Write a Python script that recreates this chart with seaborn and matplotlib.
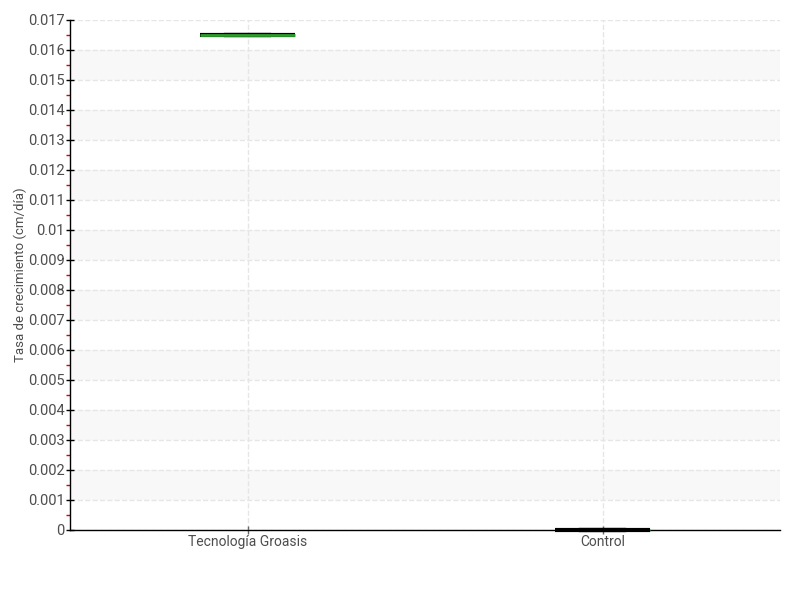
import matplotlib
matplotlib.use("Agg")
import matplotlib.pyplot as plt
from matplotlib.ticker import MultipleLocator
import seaborn as sns
import pandas as pd
import numpy as np

sns.set_theme(style="white")
plt.rcParams['font.family'] = ['Roboto', 'DejaVu Sans']

categories = ["Tecnología Groasis", "Control"]
groasis_vals = [0.01648, 0.01648, 0.01648, 0.01648, 0.01648]
control_vals = [0.0, 0.0, 0.0, 0.0, 0.0]
y_label = "Tasa de crecimiento (cm/día)"
y_max = 0.017
y_step = 0.001

df = pd.DataFrame({
    "grupo": [categories[0]] * len(groasis_vals) + [categories[1]] * len(control_vals),
    "tasa": groasis_vals + control_vals,
})

text_color = "#4d4d4d"
median_color = "#2ca02c"

fig, ax = plt.subplots(figsize=(8, 6), dpi=100)
fig.subplots_adjust(left=0.0875, right=0.975, top=0.967, bottom=0.117)

# alternating bands
for lo in np.arange(y_step, y_max, 2 * y_step):
    ax.axhspan(lo, lo + y_step, color="#f8f8f8", zorder=0, lw=0)
n_bands = len(ax.patches)

sns.boxplot(data=df, x="grupo", y="tasa", order=categories, ax=ax, width=0.27,
            color="black", linewidth=3, fliersize=0,
            boxprops=dict(edgecolor="black", facecolor="#333333", linewidth=3),
            whiskerprops=dict(color="black", linewidth=3),
            capprops=dict(color="black", linewidth=3),
            medianprops=dict(color=median_color, linewidth=2))

for art in ax.patches[n_bands:] + ax.lines:
    art.set_clip_on(False)
    art.set_zorder(5)
# control median sits under its (flat) box
for ln in ax.lines:
    if ln.get_color() == median_color and np.mean(ln.get_xdata()) > 0.5:
        ln.set_zorder(4)

ax.set_xlim(-0.5, 1.5)
ax.set_ylim(0, y_max)
ax.yaxis.set_major_locator(MultipleLocator(y_step))
ax.yaxis.set_minor_locator(MultipleLocator(y_step / 2))
ax.set_yticklabels(["0" if v == 0 else f"{v:.3f}".rstrip("0") for v in ax.get_yticks()])

ax.grid(True, which="major", axis="both", color="#e6e6e6", linestyle="--", linewidth=1)
ax.set_axisbelow(True)
for s in ["top", "right"]:
    ax.spines[s].set_visible(False)
for s in ["left", "bottom"]:
    ax.spines[s].set_color("black")
    ax.spines[s].set_linewidth(1)

ax.tick_params(axis="y", which="major", left=True, direction="inout", length=6, width=1,
               color="black", labelsize=10.5, labelcolor=text_color, pad=1)
ax.tick_params(axis="y", which="minor", left=True, direction="out", length=3, width=1,
               color="#e00000")
ax.tick_params(axis="x", which="major", bottom=True, direction="inout", length=6, width=1,
               color="#666666", labelsize=10, labelcolor=text_color, pad=1)

ax.set_xlabel("")
ax.set_ylabel(y_label, fontsize=9.5, color=text_color)
ax.yaxis.set_label_coords(-0.061, 0.5)

fig.savefig("out.png", dpi=100)
